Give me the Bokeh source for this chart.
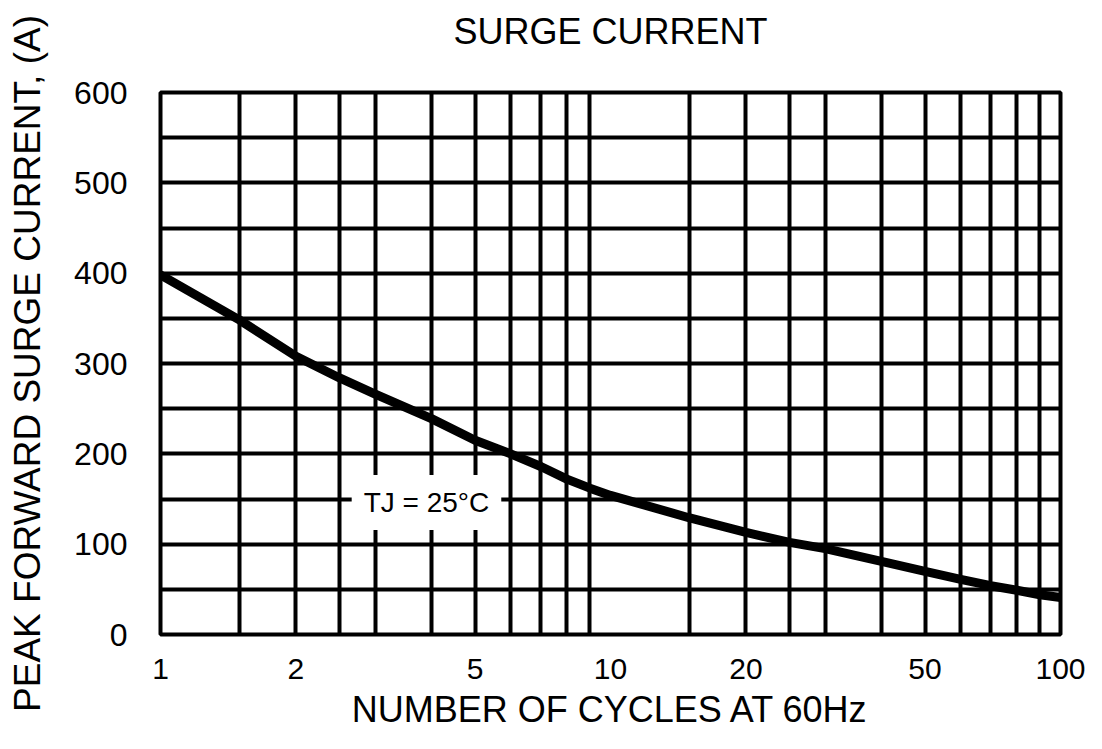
from bokeh.plotting import figure
from bokeh.models import FixedTicker, PrintfTickFormatter, Label, ColumnDataSource, Title
from bokeh.embed import file_html
from bokeh.resources import INLINE

# Data
cycles = [1, 1.5, 2, 2.5, 3, 4, 5, 6, 7, 8, 9, 10, 15, 20, 25, 30, 40, 50, 60, 70, 80, 90, 100]
surge_current = [398, 348, 308, 284, 266, 239, 215, 200, 186, 172, 162, 154, 129, 113, 102, 95, 81, 70, 61, 54, 49, 44, 41]

x_tick_values = [1, 2, 5, 10, 20, 50, 100]
x_grid_values = [1.5, 2, 2.5, 3, 4, 5, 6, 7, 8, 9, 15, 20, 25, 30, 40, 50, 60, 70, 80, 90]
y_tick_values = [0, 100, 200, 300, 400, 500, 600]
y_grid_values = [50, 100, 150, 200, 250, 300, 350, 400, 450, 500, 550]

title_text = "SURGE CURRENT"
x_label = "NUMBER OF CYCLES AT 60Hz"
y_label = "PEAK FORWARD SURGE CURRENT, (A)"
note_text = "TJ = 25°C"
note_x = 3.9
note_y = 146

FONT = "Liberation Sans"

p = figure(width=1086, height=733, x_axis_type="log", x_range=(1, 100), y_range=(0, 600),
           output_backend="svg", toolbar_location=None, title=title_text,
           min_border_left=160, min_border_right=26, min_border_top=92, min_border_bottom=99)

p.background_fill_color = "white"
p.border_fill_color = "white"
p.outline_line_color = "black"
p.outline_line_width = 4

# Title
p.title.align = "center"
p.title.text_font = FONT
p.title.text_font_size = "36px"
p.title.text_font_style = "normal"
p.title.text_color = "black"
p.title.standoff = 10

# invisible spacer between title and frame
spacer = Title(text=" ", text_font_size="1px", standoff=33, text_color="white")
p.add_layout(spacer, "above")

# Grids
p.xgrid.ticker = FixedTicker(ticks=x_grid_values)
p.ygrid.ticker = FixedTicker(ticks=y_grid_values)
for g in (p.xgrid[0], p.ygrid[0]):
    g.grid_line_color = "black"
    g.grid_line_width = 4
    g.grid_line_alpha = 1.0

# Axes
p.xaxis.ticker = FixedTicker(ticks=x_tick_values)
p.xaxis.formatter = PrintfTickFormatter(format="%d")
p.yaxis.ticker = FixedTicker(ticks=y_tick_values)
for ax in (p.xaxis[0], p.yaxis[0]):
    ax.axis_line_color = None
    ax.major_tick_line_color = None
    ax.minor_tick_line_color = None
    ax.major_label_text_font = FONT
    ax.major_label_text_color = "black"
    ax.axis_label_text_font = FONT
    ax.axis_label_text_font_style = "normal"
    ax.axis_label_text_color = "black"

p.xaxis.major_label_text_font_size = "30px"
p.xaxis.major_label_standoff = 18
p.xaxis.axis_label = x_label
p.xaxis.axis_label_text_font_size = "36px"
p.xaxis.axis_label_standoff = 7

p.yaxis.major_label_text_font_size = "32px"
p.yaxis.major_label_standoff = 27
p.yaxis.axis_label = y_label
p.yaxis.axis_label_text_font_size = "37px"
p.yaxis.axis_label_standoff = 23

# Curve
src = ColumnDataSource(data=dict(x=cycles, y=surge_current))
p.line("x", "y", source=src, line_color="black", line_width=9, line_join="round", line_cap="round")

# Annotation
note = Label(x=note_x, y=note_y, text=note_text, text_align="center", text_baseline="middle",
             text_font=FONT, text_font_size="28px", text_color="black",
             background_fill_color="white", padding=12)
p.add_layout(note)

open("out.html", "w").write(file_html(p, INLINE))
